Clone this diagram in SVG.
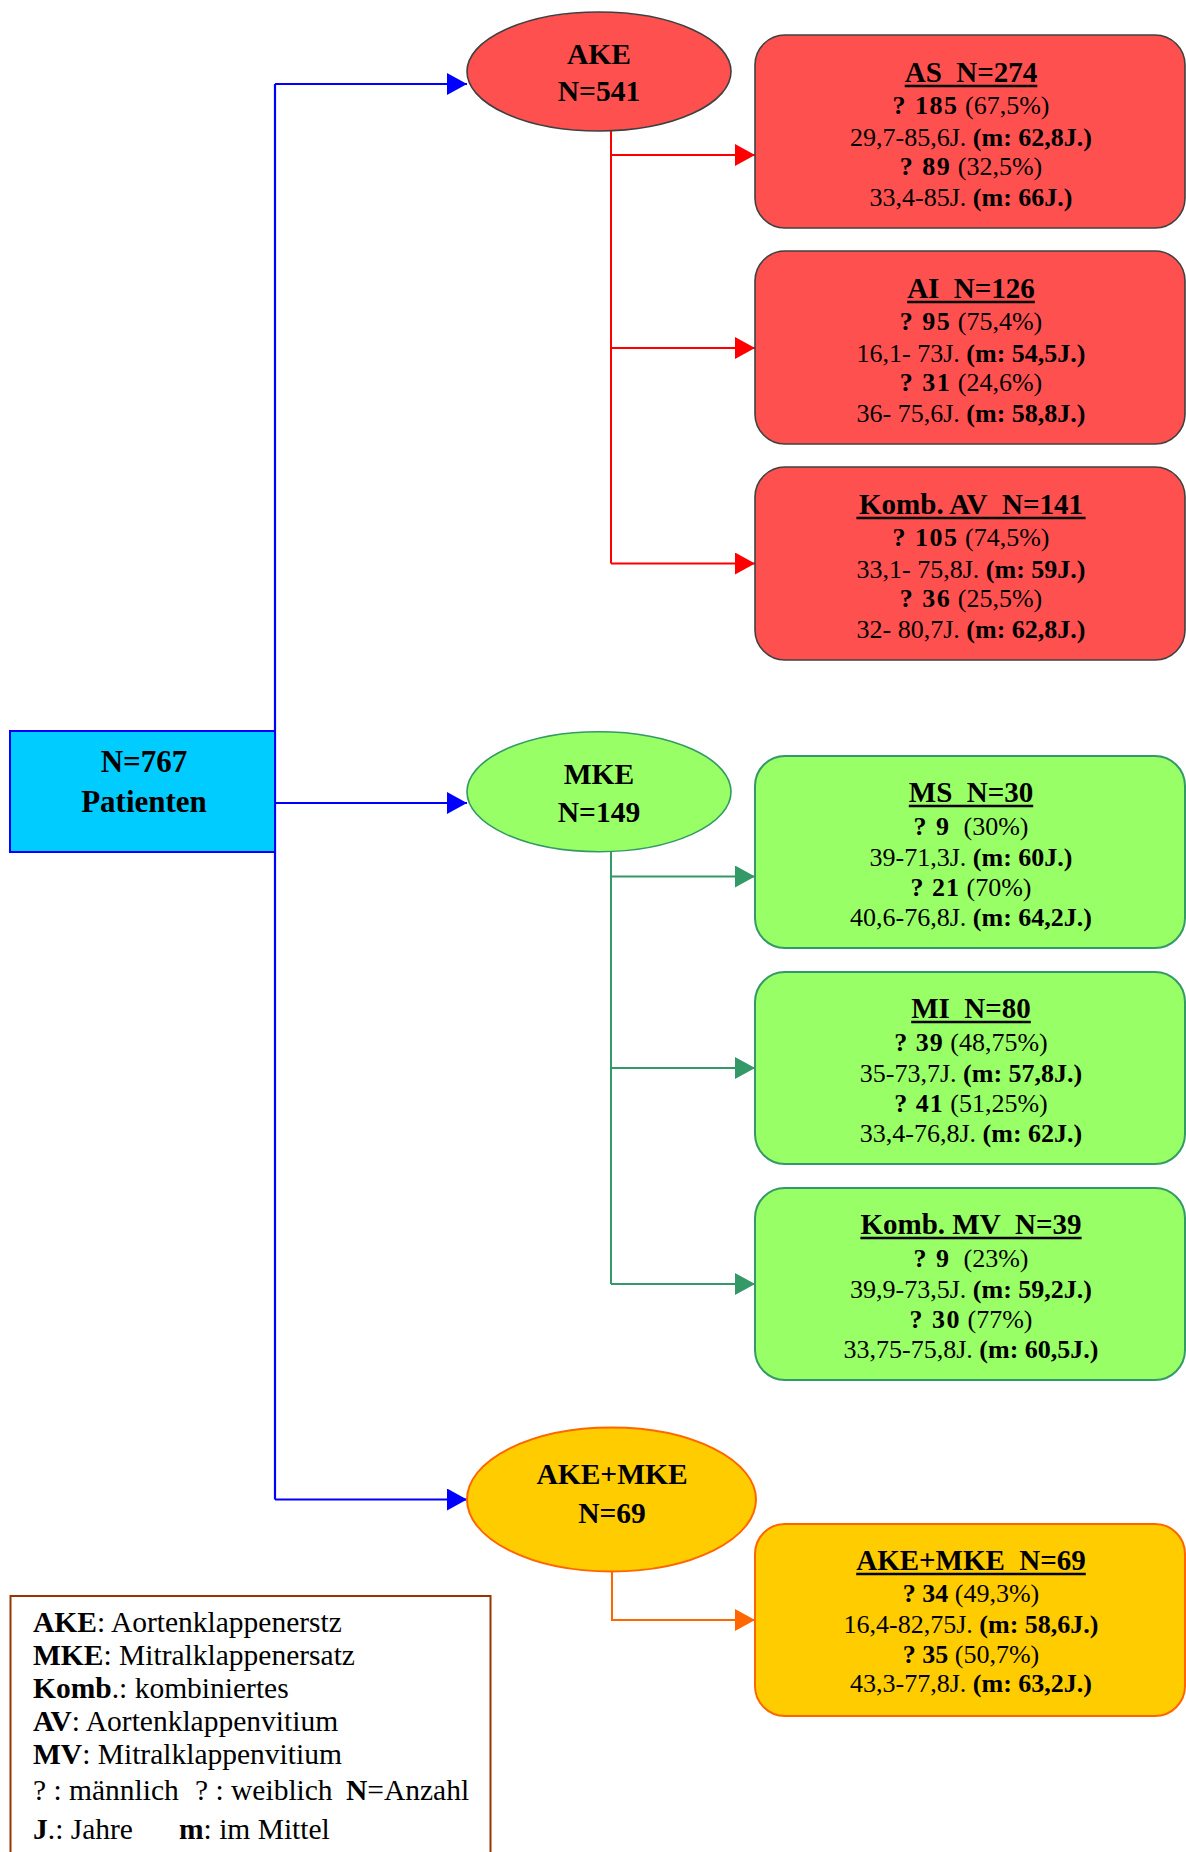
<svg xmlns="http://www.w3.org/2000/svg" width="1186" height="1852" viewBox="0 0 1186 1852">
<style>
text{font-family:"Liberation Serif","Times New Roman",serif;fill:#000;}
.b{font-weight:bold;}
.h{font-size:29px;font-weight:bold;text-anchor:middle;}
.d{font-size:26px;text-anchor:middle;}
.e{font-size:29.5px;font-weight:bold;text-anchor:middle;}
.root{font-size:31px;font-weight:bold;text-anchor:middle;}
.lg{font-size:29.5px;}
.ul{stroke:#000;stroke-width:2.6;}
.rbox{fill:#FF5050;stroke:#404040;stroke-width:1.6;}
.gbox{fill:#99FF66;stroke:#339966;stroke-width:2;}
.ybox{fill:#FFCC00;stroke:#FF6600;stroke-width:2;}
.cb{fill:none;stroke:#0000FF;stroke-width:2.2;}
.cr{fill:none;stroke:#FF0000;stroke-width:2;}
.cg{fill:none;stroke:#339966;stroke-width:2;}
.co{fill:none;stroke:#FF6600;stroke-width:2;}
</style>
<defs>
<marker id="ab" markerUnits="userSpaceOnUse" markerWidth="20" markerHeight="22" refX="20" refY="11" orient="auto"><path d="M0,0 L20,11 L0,22 z" fill="#0000FF"/></marker>
<marker id="ar" markerUnits="userSpaceOnUse" markerWidth="20" markerHeight="22" refX="20" refY="11" orient="auto"><path d="M0,0 L20,11 L0,22 z" fill="#FF0000"/></marker>
<marker id="ag" markerUnits="userSpaceOnUse" markerWidth="20" markerHeight="22" refX="20" refY="11" orient="auto"><path d="M0,0 L20,11 L0,22 z" fill="#339966"/></marker>
<marker id="ao" markerUnits="userSpaceOnUse" markerWidth="20" markerHeight="22" refX="20" refY="11" orient="auto"><path d="M0,0 L20,11 L0,22 z" fill="#FF6600"/></marker>
</defs>
<rect width="1186" height="1852" fill="#fff"/>

<g id="connectors">
<path class="cb" d="M275,84 V1499.5"/>
<path class="cb" d="M275,84 H467" marker-end="url(#ab)"/>
<path class="cb" d="M275,803 H467" marker-end="url(#ab)"/>
<path class="cb" d="M275,1499.5 H467" marker-end="url(#ab)"/>
<path class="cr" d="M611,131 V563.5"/>
<path class="cr" d="M611,155 H755" marker-end="url(#ar)"/>
<path class="cr" d="M611,348 H755" marker-end="url(#ar)"/>
<path class="cr" d="M611,563.5 H755" marker-end="url(#ar)"/>
<path class="cg" d="M611,851.5 V1284"/>
<path class="cg" d="M611,876.5 H755" marker-end="url(#ag)"/>
<path class="cg" d="M611,1068 H755" marker-end="url(#ag)"/>
<path class="cg" d="M611,1284 H755" marker-end="url(#ag)"/>
<path class="co" d="M612,1571.5 V1620 H755" marker-end="url(#ao)"/>
</g>

<g id="root">
<rect x="10" y="731" width="265" height="121" fill="#00CCFF" stroke="#0000FF" stroke-width="2"/>
<text class="root" x="144" y="772">N=767</text>
<text class="root" x="144" y="812">Patienten</text>
</g>

<g id="ake">
<ellipse cx="599" cy="71.5" rx="132" ry="59.5" fill="#FF5050" stroke="#404040" stroke-width="1.6"/>
<text class="e" x="599" y="63.5">AKE</text>
<text class="e" x="599" y="100.5">N=541</text>
</g>

<g id="mke">
<ellipse cx="599" cy="791.7" rx="132" ry="60" fill="#99FF66" stroke="#339966" stroke-width="1.6"/>
<text class="e" x="599" y="783.5">MKE</text>
<text class="e" x="599" y="821.5">N=149</text>
</g>

<g id="akemke">
<ellipse cx="611.5" cy="1499.5" rx="144.5" ry="72" fill="#FFCC00" stroke="#FF6600" stroke-width="2"/>
<text class="e" x="612" y="1484">AKE+MKE</text>
<text class="e" x="612" y="1523">N=69</text>
</g>

<g id="as">
<rect class="rbox" x="755" y="35" width="430" height="193" rx="30"/>
<text class="h" x="971" y="82">AS&#160; N=274</text>
<line class="ul" x1="904.7" y1="86" x2="1037.3" y2="86"/>
<text class="d" x="971" y="113.5"><tspan class="b" letter-spacing="1.5">? 185</tspan> (67,5%)</text>
<text class="d" x="971" y="146">29,7-85,6J. <tspan class="b">(m: 62,8J.)</tspan></text>
<text class="d" x="971" y="175"><tspan class="b" letter-spacing="1.5">? 89</tspan> (32,5%)</text>
<text class="d" x="971" y="206">33,4-85J. <tspan class="b">(m: 66J.)</tspan></text>
</g>

<g id="ai">
<rect class="rbox" x="755" y="251" width="430" height="193" rx="30"/>
<text class="h" x="971" y="298">AI&#160; N=126</text>
<line class="ul" x1="907.2" y1="302" x2="1034.8" y2="302"/>
<text class="d" x="971" y="329.5"><tspan class="b" letter-spacing="1.5">? 95</tspan> (75,4%)</text>
<text class="d" x="971" y="362">16,1- 73J. <tspan class="b">(m: 54,5J.)</tspan></text>
<text class="d" x="971" y="391"><tspan class="b" letter-spacing="1.5">? 31</tspan> (24,6%)</text>
<text class="d" x="971" y="422">36- 75,6J. <tspan class="b">(m: 58,8J.)</tspan></text>
</g>

<g id="kombav">
<rect class="rbox" x="755" y="467" width="430" height="193" rx="30"/>
<text class="h" x="971" y="514">Komb. AV&#160; N=141</text>
<line class="ul" x1="856.4" y1="518" x2="1085.6" y2="518"/>
<text class="d" x="971" y="545.5"><tspan class="b" letter-spacing="1.5">? 105</tspan> (74,5%)</text>
<text class="d" x="971" y="578">33,1- 75,8J. <tspan class="b">(m: 59J.)</tspan></text>
<text class="d" x="971" y="607"><tspan class="b" letter-spacing="1.5">? 36</tspan> (25,5%)</text>
<text class="d" x="971" y="638">32- 80,7J. <tspan class="b">(m: 62,8J.)</tspan></text>
</g>

<g id="ms">
<rect class="gbox" x="755" y="756" width="430" height="192" rx="30"/>
<text class="h" x="971" y="802">MS&#160; N=30</text>
<line class="ul" x1="908.8" y1="806" x2="1033.2" y2="806"/>
<text class="d" x="971" y="834.5"><tspan class="b" letter-spacing="1.5">? 9</tspan>&#160; (30%)</text>
<text class="d" x="971" y="866">39-71,3J. <tspan class="b">(m: 60J.)</tspan></text>
<text class="d" x="971" y="895.5"><tspan class="b" letter-spacing="1">? 21</tspan> (70%)</text>
<text class="d" x="971" y="926">40,6-76,8J. <tspan class="b">(m: 64,2J.)</tspan></text>
</g>

<g id="mi">
<rect class="gbox" x="755" y="972" width="430" height="192" rx="30"/>
<text class="h" x="971" y="1018">MI&#160; N=80</text>
<line class="ul" x1="911.2" y1="1022" x2="1030.8" y2="1022"/>
<text class="d" x="971" y="1050.5"><tspan class="b" letter-spacing="1">? 39</tspan> (48,75%)</text>
<text class="d" x="971" y="1082">35-73,7J. <tspan class="b">(m: 57,8J.)</tspan></text>
<text class="d" x="971" y="1111.5"><tspan class="b" letter-spacing="1">? 41</tspan> (51,25%)</text>
<text class="d" x="971" y="1142">33,4-76,8J. <tspan class="b">(m: 62J.)</tspan></text>
</g>

<g id="kombmv">
<rect class="gbox" x="755" y="1188" width="430" height="192" rx="30"/>
<text class="h" x="971" y="1234">Komb. MV&#160; N=39</text>
<line class="ul" x1="860.4" y1="1238" x2="1081.6" y2="1238"/>
<text class="d" x="971" y="1266.5"><tspan class="b" letter-spacing="1.5">? 9</tspan>&#160; (23%)</text>
<text class="d" x="971" y="1298">39,9-73,5J. <tspan class="b">(m: 59,2J.)</tspan></text>
<text class="d" x="971" y="1327.5"><tspan class="b" letter-spacing="1.5">? 30</tspan> (77%)</text>
<text class="d" x="971" y="1358">33,75-75,8J. <tspan class="b">(m: 60,5J.)</tspan></text>
</g>

<g id="akemkebox">
<rect class="ybox" x="755" y="1524" width="430" height="192" rx="30"/>
<text class="h" x="971" y="1570">AKE+MKE&#160; N=69</text>
<line class="ul" x1="856.2" y1="1574" x2="1085.8" y2="1574"/>
<text class="d" x="971" y="1602"><tspan class="b">? 34</tspan> (49,3%)</text>
<text class="d" x="971" y="1633">16,4-82,75J. <tspan class="b">(m: 58,6J.)</tspan></text>
<text class="d" x="971" y="1663"><tspan class="b">? 35</tspan> (50,7%)</text>
<text class="d" x="971" y="1692">43,3-77,8J. <tspan class="b">(m: 63,2J.)</tspan></text>
</g>

<g id="legend">
<rect x="10.5" y="1596" width="480" height="280" fill="none" stroke="#993300" stroke-width="2"/>
<text class="lg" x="33" y="1632"><tspan class="b">AKE</tspan>: Aortenklappenerstz</text>
<text class="lg" x="33" y="1664.5"><tspan class="b">MKE</tspan>: Mitralklappenersatz</text>
<text class="lg" x="33" y="1697.5"><tspan class="b">Komb</tspan>.: kombiniertes</text>
<text class="lg" x="33" y="1730.5"><tspan class="b">AV</tspan>: Aortenklappenvitium</text>
<text class="lg" x="33" y="1763.5"><tspan class="b">MV</tspan>: Mitralklappenvitium</text>
<text class="lg" y="1799.5"><tspan x="33">? : männlich</tspan><tspan x="195">? : weiblich</tspan><tspan x="346" class="b">N</tspan>=Anzahl</text>
<text class="lg" y="1838.5"><tspan x="33" class="b">J</tspan>.: Jahre<tspan x="179" class="b">m</tspan>: im Mittel</text>
</g>
</svg>
